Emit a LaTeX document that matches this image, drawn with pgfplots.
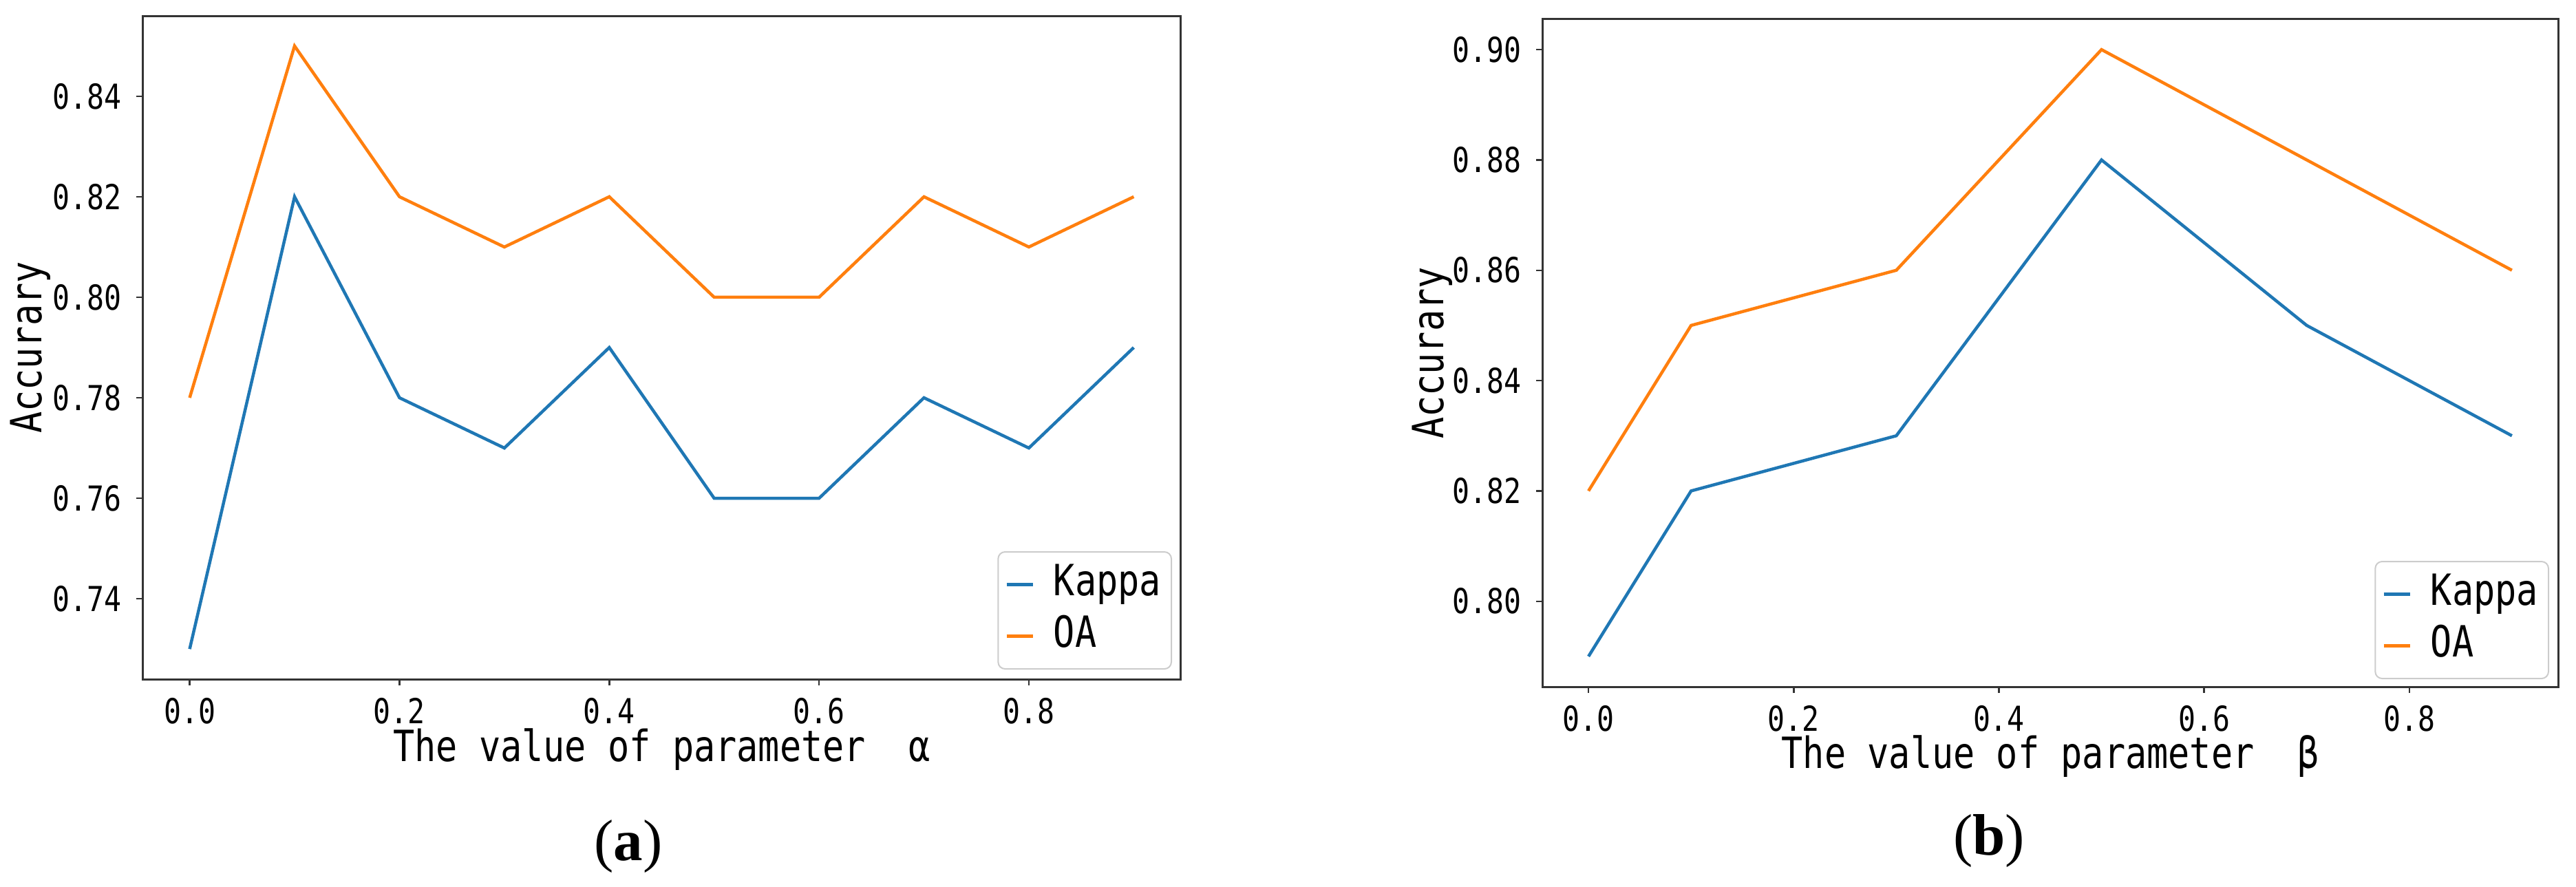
\documentclass[border=0pt]{standalone}
\usepackage{fontspec}
\setmainfont{Liberation Serif}
\setmonofont[FakeStretch=0.83]{DejaVu Sans Mono}
\usepackage{pgfplots}
\pgfplotsset{compat=1.18}
\definecolor{mplblue}{HTML}{1F77B4}
\definecolor{mplorange}{HTML}{FF7F0E}
\newcommand{\tickfont}{\ttfamily\fontsize{10}{12}\selectfont}
\newcommand{\labfont}{\ttfamily\fontsize{12.5}{15}\selectfont}
\pgfplotsset{
  myax/.style={
    scale only axis,
    axis line style={black!80, line width=0.6pt},
    tick align=outside,
    major tick length=1.8pt,
    tick style={black!80, line width=0.5pt},
    xtick pos=left, ytick pos=left,
    /pgf/number format/assume math mode=true,
    tick label style={font=\tickfont},
    scaled ticks=false,
    xmin=-0.045, xmax=0.945,
    xtick={0,0.2,0.4,0.6,0.8},
    xticklabel style={inner sep=0pt, yshift=-3.4pt, /pgf/number format/fixed, /pgf/number format/fixed zerofill, /pgf/number format/precision=1},
    yticklabel style={inner sep=0pt, xshift=-4.2pt, /pgf/number format/fixed, /pgf/number format/fixed zerofill, /pgf/number format/precision=2},
    label style={font=\labfont, inner sep=0pt},
    ylabel={Accurary},
    legend cell align=left,
    legend image code/.code={\draw[#1] (0pt,0pt) -- (7.6pt,0pt);},
    legend style={draw=black!20, rounded corners=2pt, fill=white, font=\labfont,
      anchor=south east, inner sep=2pt, row sep=0pt, column sep=4.6pt,
      nodes={inner sep=1pt, text height=9.6pt, text depth=3.4pt}},
    every axis plot/.append style={line width=0.9pt, mark=none},
  }
}
\pgfplotstableread{
x kappa oa
0.0 0.73 0.78
0.1 0.82 0.85
0.2 0.78 0.82
0.3 0.77 0.81
0.4 0.79 0.82
0.5 0.76 0.80
0.6 0.76 0.80
0.7 0.78 0.82
0.8 0.77 0.81
0.9 0.79 0.82
}\dataA
\pgfplotstableread{
x kappa oa
0.0 0.79 0.82
0.1 0.82 0.85
0.3 0.83 0.86
0.5 0.88 0.90
0.7 0.85 0.88
0.9 0.83 0.86
}\dataB
\begin{document}
\begin{tikzpicture}
\path[use as bounding box] (0,0) rectangle (748.6pt,257.6pt);
\begin{axis}[myax,
  at={(41.4pt,60.2pt)}, anchor=south west,
  width=301.8pt, height=192.8pt,
  ymin=0.724, ymax=0.856,
  ytick={0.74,0.76,0.78,0.80,0.82,0.84},
  xlabel={The value of parameter\ \ α},
  xlabel style={at={(axis description cs:0.5,-0.073)}, anchor=north},
  ylabel style={at={(axis description cs:-0.088,0.5)}, anchor=south},
  legend style={at={(axis description cs:0.9914,0.0145)}},
]
\addplot[mplblue] table[x=x, y=kappa] {\dataA};
\addlegendentry{Kappa}
\addplot[mplorange] table[x=x, y=oa] {\dataA};
\addlegendentry{OA}
\end{axis}
\begin{axis}[myax,
  at={(448.2pt,58pt)}, anchor=south west,
  width=295.2pt, height=194pt,
  ymin=0.7845, ymax=0.9055,
  ytick={0.80,0.82,0.84,0.86,0.88,0.90},
  xlabel={The value of parameter\ \ β},
  xlabel style={at={(axis description cs:0.5,-0.071)}, anchor=north},
  ylabel style={at={(axis description cs:-0.088,0.5)}, anchor=south},
  legend style={at={(axis description cs:0.9912,0.0113)}},
]
\addplot[mplblue] table[x=x, y=kappa] {\dataB};
\addlegendentry{Kappa}
\addplot[mplorange] table[x=x, y=oa] {\dataB};
\addlegendentry{OA}
\end{axis}
\node[font=\fontsize{17}{20}\selectfont] at (182.6pt,11.6pt) {(\textbf{a})};
\node[font=\fontsize{17}{20}\selectfont] at (578pt,13.2pt) {(\textbf{b})};
\end{tikzpicture}
\end{document}
